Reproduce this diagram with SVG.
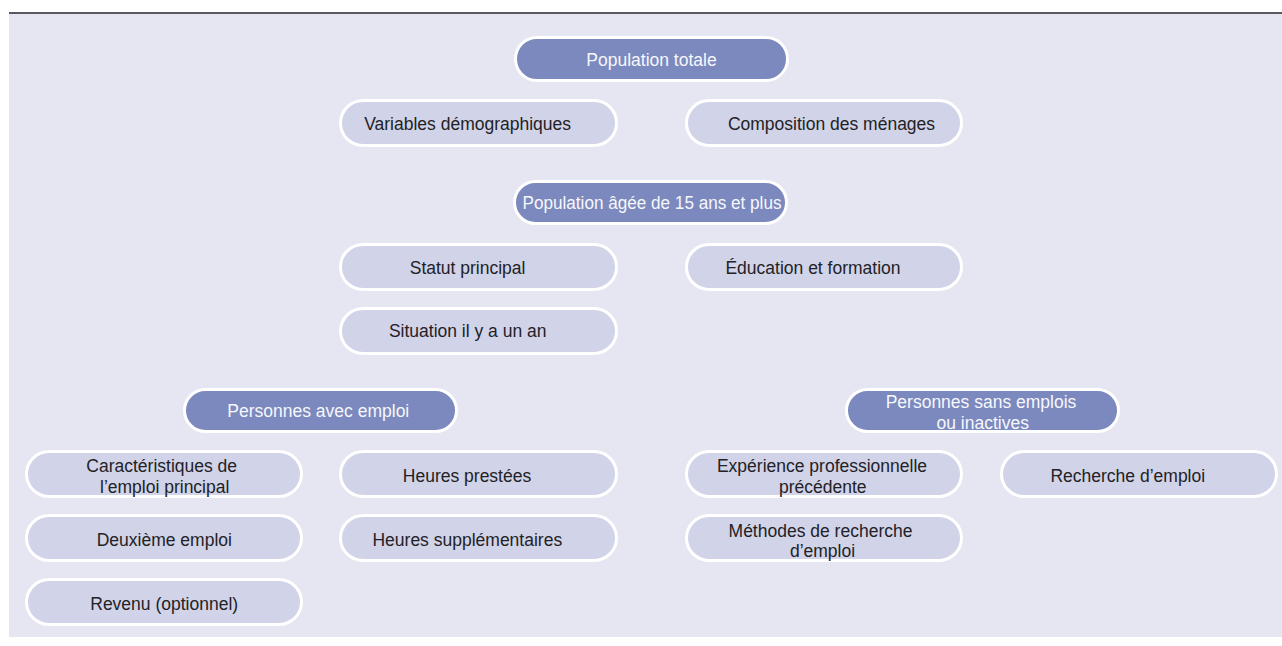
<svg xmlns="http://www.w3.org/2000/svg" width="1282" height="646" viewBox="0 0 1282 646">
<style>
.bg{fill:#e6e6f2}
.topline{fill:#58585f}
.dark rect{fill:#7b89be;stroke:#ffffff;stroke-width:3}
.light rect{fill:#d1d3e8;stroke:#ffffff;stroke-width:3}
text{font-family:"Liberation Sans",Arial,sans-serif;font-size:17.5px;text-anchor:middle}
.dark text{fill:#f7f7fc}
.light text{fill:#222226}
</style>
<rect x="0" y="0" width="1282" height="646" fill="#ffffff"/>
<rect class="bg" x="9" y="14" width="1273" height="623"/>
<rect class="topline" x="9" y="12" width="1273" height="2"/>
<g id="connectors"/>
<g id="n-pop-totale" class="dark"><rect x="515.5" y="37.5" width="272" height="43" rx="21.5"/><text x="651.5" y="66">Population totale</text></g>
<g id="n-variables" class="light"><rect x="340.5" y="100.5" width="276" height="45" rx="22.5"/><text x="467.6" y="129.5">Variables démographiques</text></g>
<g id="n-composition" class="light"><rect x="686.5" y="100.5" width="275" height="45" rx="22.5"/><text x="831.5" y="129.5">Composition des ménages</text></g>
<g id="n-pop-15" class="dark"><rect x="514.5" y="181.5" width="272" height="42" rx="21"/><text x="652" y="208.5" textLength="259" lengthAdjust="spacingAndGlyphs">Population âgée de 15 ans et plus</text></g>
<g id="n-statut" class="light"><rect x="340.5" y="244.5" width="276" height="45" rx="22.5"/><text x="467.6" y="273.5">Statut principal</text></g>
<g id="n-education" class="light"><rect x="686.5" y="244.5" width="275" height="45" rx="22.5"/><text x="813" y="273.5">Éducation et formation</text></g>
<g id="n-situation" class="light"><rect x="340.5" y="308.5" width="276" height="45" rx="22.5"/><text x="467.7" y="337">Situation il y a un an</text></g>
<g id="n-avec-emploi" class="dark"><rect x="184.5" y="389.5" width="272" height="42" rx="21"/><text x="318.3" y="416.5">Personnes avec emploi</text></g>
<g id="n-sans-emploi" class="dark"><rect x="846.5" y="389.5" width="272" height="42" rx="21"/><text x="981" y="407.5">Personnes sans emplois</text><text x="982.7" y="429">ou inactives</text></g>
<g id="n-caracteristiques" class="light"><rect x="26.5" y="451.5" width="275" height="45" rx="22.5"/><text x="161.7" y="472">Caractéristiques de</text><text x="164.7" y="492.7">l’emploi principal</text></g>
<g id="n-heures-prestees" class="light"><rect x="340.5" y="451.5" width="276" height="45" rx="22.5"/><text x="467" y="482">Heures prestées</text></g>
<g id="n-experience" class="light"><rect x="686.5" y="451.5" width="275" height="45" rx="22.5"/><text x="822" y="472.3">Expérience professionnelle</text><text x="822.7" y="492.7">précédente</text></g>
<g id="n-recherche" class="light"><rect x="1001.5" y="451.5" width="275" height="45" rx="22.5"/><text x="1127.8" y="481.5">Recherche d’emploi</text></g>
<g id="n-deuxieme" class="light"><rect x="26.5" y="515.5" width="275" height="45" rx="22.5"/><text x="164.3" y="546">Deuxième emploi</text></g>
<g id="n-heures-supp" class="light"><rect x="340.5" y="515.5" width="276" height="45" rx="22.5"/><text x="467.3" y="546">Heures supplémentaires</text></g>
<g id="n-methodes" class="light"><rect x="686.5" y="515.5" width="275" height="45" rx="22.5"/><text x="820.5" y="536.7">Méthodes de recherche</text><text x="822.5" y="556.7">d’emploi</text></g>
<g id="n-revenu" class="light"><rect x="26.5" y="579.5" width="275" height="45" rx="22.5"/><text x="164.2" y="610">Revenu (optionnel)</text></g>
</svg>
